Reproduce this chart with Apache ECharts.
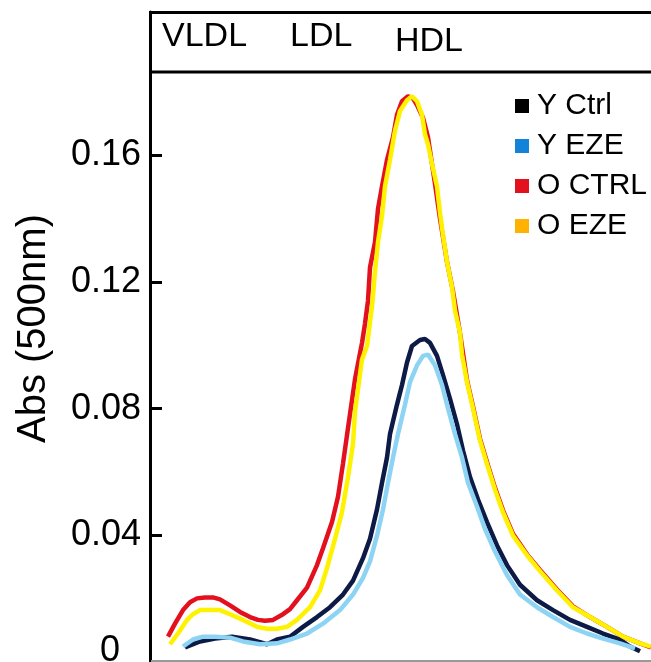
<!DOCTYPE html>
<html>
<head>
<meta charset="utf-8">
<script src="https://cdn.jsdelivr.net/npm/echarts@6/dist/echarts.min.js"></script>
<style>
html,body{margin:0;padding:0;background:#fff;}
#chart{width:651px;height:662px;}
</style>
</head>
<body>
<div id="chart"></div>
<script>
// ---- Data (fraction number, absorbance at 500 nm) ----
const seriesNames = ['Y Ctrl', 'Y EZE', 'O CTRL', 'O EZE'];
const lineColors = ['#0c1a45', '#8dd3f4', '#e3101e', '#fff200'];
const legendColors = ['#000000', '#1283d8', '#e3101e', '#ffb300'];
const yTickValues = [0.04, 0.08, 0.12, 0.16];
const headerLabels = ['VLDL', 'LDL', 'HDL'];

const yCtrl = [
  [3.5,0.0046],[5.0,0.0065],[6.5,0.0074],[8.2,0.0080],[10.0,0.0071],[11.7,0.0056],[12.7,0.0071],
  [14.0,0.0080],[15.3,0.0111],[16.7,0.0142],[18.0,0.0173],[19.3,0.0213],[20.3,0.0257],[21.3,0.0328],
  [22.0,0.0389],[22.7,0.0482],[23.2,0.0566],[23.7,0.0646],[24.0,0.0720],[24.7,0.0813],[25.2,0.0875],
  [25.7,0.0946],[26.2,0.0998],[27.0,0.1017],[27.5,0.1020],[28.0,0.1008],[28.7,0.0967],[29.3,0.0906],
  [30.0,0.0831],[30.7,0.0751],[31.3,0.0668],[32.0,0.0584],[32.8,0.0513],[33.7,0.0442],[34.7,0.0368],
  [35.7,0.0306],[37.0,0.0244],[38.7,0.0195],[40.3,0.0164],[42.0,0.0133],[43.7,0.0111],[45.3,0.0090],
  [47.0,0.0071],[48.0,0.0049],[49.0,0.0034]
];
const yEze = [
  [3.3,0.0049],[4.3,0.0071],[5.3,0.0080],[6.5,0.0080],[8.0,0.0077],[9.3,0.0065],[11.0,0.0056],
  [12.7,0.0059],[14.0,0.0071],[15.7,0.0090],[17.3,0.0121],[19.0,0.0164],[20.3,0.0213],[21.3,0.0266],
  [22.0,0.0318],[22.7,0.0399],[23.3,0.0482],[23.8,0.0566],[24.3,0.0646],[24.8,0.0720],[25.5,0.0813],
  [26.0,0.0884],[26.7,0.0937],[27.3,0.0967],[27.8,0.0971],[28.5,0.0937],[29.2,0.0875],[29.8,0.0801],
  [30.5,0.0720],[31.2,0.0646],[31.8,0.0566],[32.7,0.0491],[33.5,0.0420],[34.5,0.0349],[35.7,0.0275],
  [37.0,0.0213],[38.7,0.0173],[40.3,0.0142],[42.0,0.0111],[43.7,0.0090],[45.3,0.0074],[47.0,0.0059],
  [48.5,0.0043]
];
const oCtrl = [
  [1.8,0.0080],[2.5,0.0121],[3.3,0.0164],[4.0,0.0189],[4.7,0.0201],[5.5,0.0204],[6.3,0.0204],
  [7.0,0.0198],[8.0,0.0179],[9.0,0.0158],[10.0,0.0142],[10.8,0.0133],[11.5,0.0130],[12.3,0.0133],
  [13.3,0.0151],[14.0,0.0167],[14.7,0.0195],[15.7,0.0235],[16.7,0.0306],[17.3,0.0359],[18.2,0.0442],
  [18.8,0.0522],[19.3,0.0627],[19.8,0.0739],[20.5,0.0893],[21.2,0.1008],[21.5,0.1069],[21.8,0.1141],
  [22.0,0.1246],[22.5,0.1326],[22.8,0.1431],[23.2,0.1502],[23.7,0.1586],[24.3,0.1657],[24.7,0.1728],
  [25.2,0.1771],[25.8,0.1787],[26.3,0.1780],[26.7,0.1759],[27.3,0.1719],[27.8,0.1657],[28.2,0.1573],
  [28.5,0.1511],[29.0,0.1400],[29.7,0.1264],[30.3,0.1171],[31.0,0.1039],[31.7,0.0890],[32.3,0.0807],
  [33.0,0.0705],[33.8,0.0621],[34.5,0.0550],[35.3,0.0479],[36.3,0.0405],[37.7,0.0340],[39.0,0.0291],
  [40.7,0.0229],[42.3,0.0176],[44.0,0.0142],[45.7,0.0111],[47.3,0.0080],[49.0,0.0059],[50.1,0.0046]
];
const oEze = [
  [2.0,0.0056],[2.8,0.0090],[3.7,0.0133],[4.3,0.0151],[5.0,0.0164],[6.0,0.0164],[7.0,0.0164],
  [8.0,0.0151],[9.3,0.0133],[10.7,0.0111],[11.7,0.0105],[12.7,0.0105],[13.7,0.0111],[14.7,0.0133],
  [16.0,0.0173],[17.0,0.0226],[17.7,0.0297],[18.5,0.0389],[19.2,0.0473],[19.8,0.0584],[20.3,0.0689],
  [20.5,0.0791],[21.2,0.0955],[21.7,0.0998],[22.2,0.1122],[22.5,0.1233],[22.8,0.1326],[23.2,0.1409],
  [23.5,0.1502],[24.0,0.1586],[24.5,0.1678],[25.0,0.1740],[25.7,0.1774],[26.2,0.1787],[26.7,0.1771],
  [27.2,0.1728],[27.5,0.1666],[27.8,0.1635],[28.2,0.1573],[28.7,0.1502],[29.0,0.1419],[29.3,0.1348],
  [29.7,0.1264],[30.2,0.1184],[30.5,0.1110],[31.0,0.1039],[31.2,0.0971],[31.7,0.0884],[32.3,0.0801],
  [33.0,0.0699],[33.8,0.0615],[34.5,0.0544],[35.3,0.0473],[36.3,0.0399],[37.7,0.0337],[39.0,0.0287],
  [40.7,0.0226],[42.3,0.0173],[44.0,0.0142],[45.7,0.0111],[47.3,0.0080],[49.0,0.0059],[50.1,0.0049]
];
const allData = [yCtrl, yEze, oCtrl, oEze];

const FONT = '"Liberation Sans", Arial, Helvetica, sans-serif';
const chart = echarts.init(document.getElementById('chart'), null, {renderer: 'canvas'});

const option = {
  backgroundColor: '#ffffff',
  animation: false,
  grid: {left: 150, right: 0, top: 12, bottom: -14, containLabel: false},
  xAxis: {
    type: 'value', min: 0, max: 50.1, show: false
  },
  yAxis: {
    type: 'value', min: 0, max: 0.2053, interval: 0.04,
    name: 'Abs (500nm)', nameLocation: 'middle', nameGap: 96,
    nameTextStyle: {fontFamily: FONT, fontSize: 40, color: '#000', padding: [0, 0, 0, 17]},
    axisLine: {show: true, lineStyle: {color: '#000', width: 3}},
    axisTick: {show: true, inside: true, length: 12, lineStyle: {color: '#000', width: 3}, customValues: yTickValues},
    axisLabel: {show: true, margin: 9, fontFamily: FONT, fontSize: 36, color: '#000', customValues: yTickValues,
      formatter: v => String(Number(v.toFixed(2)))},
    splitLine: {show: false}
  },
  legend: {
    orient: 'vertical', left: 510, top: 86, itemWidth: 14, itemHeight: 14, itemGap: 10,
    textStyle: {fontFamily: FONT, fontSize: 30, color: '#000', padding: [0, 0, 0, 3]},
    data: seriesNames.map((n, i) => ({name: n, icon: 'rect', itemStyle: {color: legendColors[i], borderWidth: 0}}))
  },
  series: seriesNames.map((n, i) => ({
    name: n, type: 'line', data: allData[i], showSymbol: false, symbol: 'none',
    lineStyle: {color: lineColors[i], width: 4.5}, itemStyle: {color: lineColors[i]},
    clip: false, z: 2 + i
  })),
  graphic: [
    {type: 'line', shape: {x1: 149, y1: 12.5, x2: 651, y2: 12.5}, style: {stroke: '#000', lineWidth: 3}, z: 10},
    {type: 'line', shape: {x1: 149, y1: 72, x2: 651, y2: 72}, style: {stroke: '#000', lineWidth: 3}, z: 10},
    {type: 'line', shape: {x1: 151, y1: 661, x2: 651, y2: 661}, style: {stroke: '#999', lineWidth: 2}, z: 1},
    {type: 'text', x: 162, y: 37, style: {text: headerLabels[0], font: '34px ' + FONT, fill: '#000', textVerticalAlign: 'middle'}, z: 10},
    {type: 'text', x: 290, y: 37, style: {text: headerLabels[1], font: '34px ' + FONT, fill: '#000', textVerticalAlign: 'middle'}, z: 10},
    {type: 'text', x: 395, y: 42, style: {text: headerLabels[2], font: '34px ' + FONT, fill: '#000', textVerticalAlign: 'middle'}, z: 10},
    {type: 'text', x: 120, y: 651, style: {text: '0', font: '36px ' + FONT, fill: '#000', textAlign: 'right', textVerticalAlign: 'middle'}, z: 10}
  ]
};
chart.setOption(option);
</script>
</body>
</html>
